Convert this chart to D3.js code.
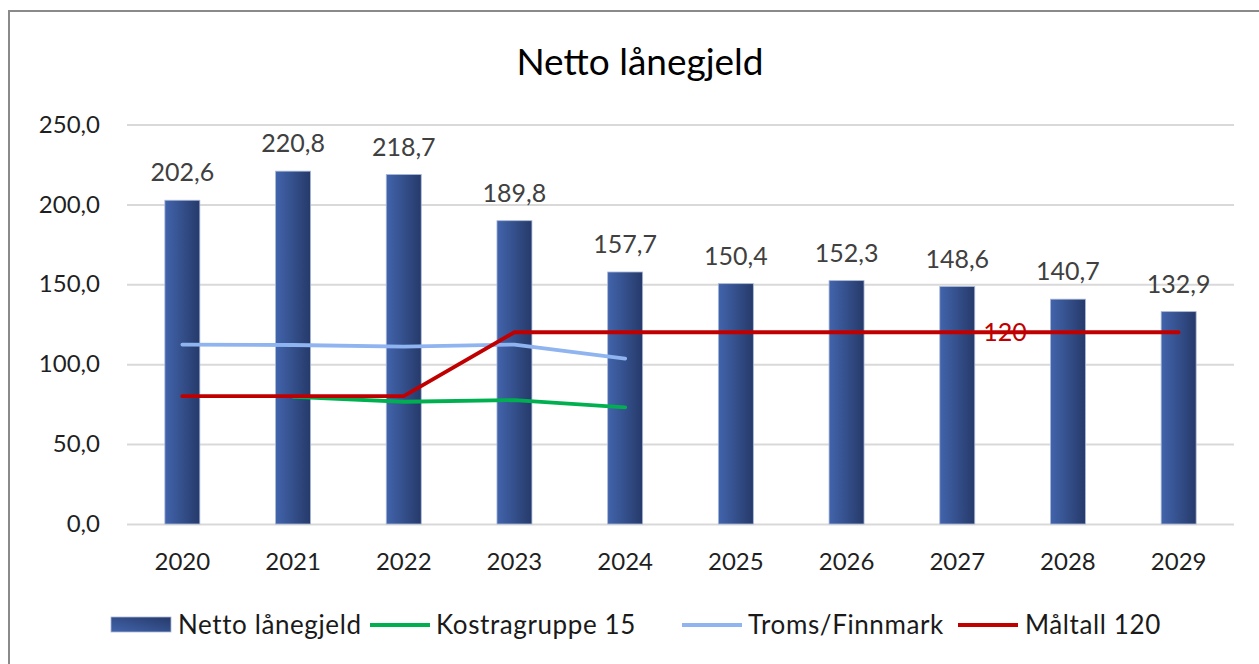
<!DOCTYPE html>
<html>
<head>
<meta charset="utf-8">
<script src="https://cdn.jsdelivr.net/npm/d3@7"></script>
<style>
  html, body { margin: 0; padding: 0; background: #fff; }
  svg { display: block; font-family: Lato, "Open Sans", sans-serif; }
</style>
</head>
<body>
<svg id="chart" width="1259" height="664"></svg>
<script>
const years = ["2020","2021","2022","2023","2024","2025","2026","2027","2028","2029"];
const nettoLanegjeld = [202.6, 220.8, 218.7, 189.8, 157.7, 150.4, 152.3, 148.6, 140.7, 132.9];
const kostragruppe15 = [null, 79.6, 76.5, 77.5, 73.0, null, null, null, null, null];
const tromsFinnmark = [112.3, 112.0, 111.0, 112.3, 103.5, null, null, null, null, null];
const maltall120 = [80, 80, 80, 120, 120, 120, 120, 120, 120, 120];
const yTicks = [0, 50, 100, 150, 200, 250];
const title = "Netto lånegjeld";
const seriesNames = ["Netto lånegjeld", "Kostragruppe 15", "Troms/Finnmark", "Måltall 120"];

const fmt = v => d3.format(".1f")(v).replace(".", ",");

const svg = d3.select("#chart");
svg.append("rect").attr("width", 1259).attr("height", 664).attr("fill", "#fff");

const defs = svg.append("defs");
const grad = defs.append("linearGradient").attr("id", "barGrad")
  .attr("x1", "0%").attr("y1", "0%").attr("x2", "100%").attr("y2", "0%");
grad.append("stop").attr("offset", "0%").attr("stop-color", "#4264ac");
grad.append("stop").attr("offset", "100%").attr("stop-color", "#263a6a");
const gradL = defs.append("linearGradient").attr("id", "legGrad")
  .attr("x1", "0%").attr("y1", "100%").attr("x2", "100%").attr("y2", "0%");
gradL.append("stop").attr("offset", "0%").attr("stop-color", "#4264ac");
gradL.append("stop").attr("offset", "100%").attr("stop-color", "#263a6a");

// outer frame
svg.append("rect").attr("x", 9).attr("y", 11).attr("width", 1270).attr("height", 670)
  .attr("fill", "none").attr("stroke", "#8a8a8a").attr("stroke-width", 2);

const x = d3.scaleBand().domain(years).range([127, 1234]).paddingInner(0.684).paddingOuter(0.342);
const y = d3.scaleLinear().domain([0, 250]).range([524, 124.5]);

// title
svg.append("text").attr("x", 640).attr("y", 75).attr("text-anchor", "middle")
  .attr("font-size", 37).attr("fill", "#000").text(title);

// grid
const yAxis = d3.axisLeft(y).tickValues(yTicks).tickSize(-(1234 - 127)).tickFormat(fmt).tickPadding(27);
const gy = svg.append("g").attr("transform", "translate(127,0)").call(yAxis);
gy.select(".domain").remove();
gy.selectAll(".tick line").attr("stroke", "#d9d9d9").attr("stroke-width", 2);
gy.selectAll(".tick text").attr("font-size", 24).attr("fill", "#1f1f1f").attr("font-family", "Lato, sans-serif");

// x axis labels
const xAxis = d3.axisBottom(x).tickSize(0).tickPadding(29);
const gx = svg.append("g").attr("transform", "translate(0,524)").call(xAxis);
gx.select(".domain").remove();
gx.selectAll(".tick text").attr("font-size", 24).attr("fill", "#1f1f1f").attr("font-family", "Lato, sans-serif");

// bars
svg.append("g").selectAll("rect").data(years).join("rect")
  .attr("x", d => x(d))
  .attr("width", x.bandwidth())
  .attr("y", (d, i) => y(nettoLanegjeld[i]))
  .attr("height", (d, i) => y(0) - y(nettoLanegjeld[i]))
  .attr("fill", "url(#barGrad)")
  .attr("stroke", "#a9b8d8").attr("stroke-width", 0.8);

// bar labels
svg.append("g").selectAll("text").data(years).join("text")
  .attr("x", d => x(d) + x.bandwidth() / 2)
  .attr("y", (d, i) => y(nettoLanegjeld[i]) - 19)
  .attr("text-anchor", "middle").attr("font-size", 25).attr("fill", "#404040")
  .text((d, i) => fmt(nettoLanegjeld[i]));

// lines
const cx = d => x(d) + x.bandwidth() / 2;
const lineGen = vals => d3.line()
  .defined((d, i) => vals[i] != null)
  .x(d => cx(d))
  .y((d, i) => y(vals[i]))(years);

const lines = [
  { vals: kostragruppe15, color: "#00b050" },
  { vals: tromsFinnmark, color: "#8fb4f0" },
  { vals: maltall120, color: "#c00000" }
];
lines.forEach(l => {
  svg.append("path").attr("d", lineGen(l.vals)).attr("fill", "none")
    .attr("stroke", l.color).attr("stroke-width", 3.8)
    .attr("stroke-linejoin", "round").attr("stroke-linecap", "round");
});

// label "120"
svg.append("text").attr("x", cx("2027") + 26).attr("y", y(maltall120[7]) + 9)
  .attr("font-size", 25).attr("fill", "#c00000").text(String(maltall120[7]));

// legend
const leg = svg.append("g").attr("font-size", 26).attr("letter-spacing", 0.6).attr("fill", "#1a1a1a");
leg.append("rect").attr("x", 111).attr("y", 617).attr("width", 60).attr("height", 15)
  .attr("fill", "url(#legGrad)").attr("stroke", "#a9b8d8").attr("stroke-width", 0.8);
leg.append("text").attr("x", 178).attr("y", 634).text(seriesNames[0]);
const legLines = [
  { x0: 370, tx: 436, color: "#00b050", name: seriesNames[1] },
  { x0: 682, tx: 748, color: "#8fb4f0", name: seriesNames[2] },
  { x0: 958, tx: 1025, color: "#c00000", name: seriesNames[3] }
];
legLines.forEach(l => {
  leg.append("line").attr("x1", l.x0).attr("x2", l.x0 + 60).attr("y1", 625).attr("y2", 625)
    .attr("stroke", l.color).attr("stroke-width", 3.8);
  leg.append("text").attr("x", l.tx).attr("y", 634).text(l.name);
});
</script>
</body>
</html>
